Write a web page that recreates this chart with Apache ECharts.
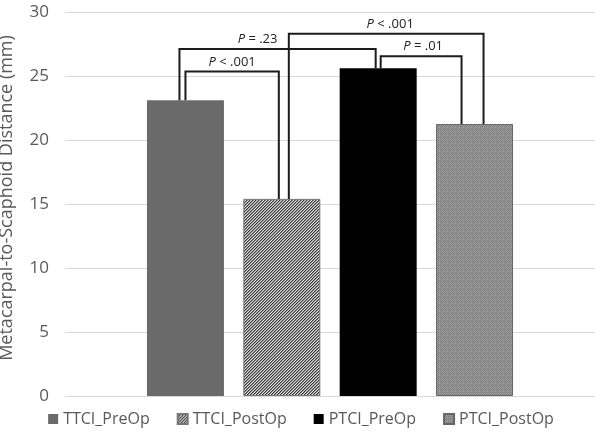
<!DOCTYPE html>
<html>
<head>
<meta charset="utf-8">
<script src="https://cdn.jsdelivr.net/npm/echarts@6/dist/echarts.min.js"></script>
<style>html,body{margin:0;padding:0;background:#fff}#c{width:602px;height:433px}</style>
</head>
<body>
<div id="c"></div>
<script>
// ---- data ----
var groups = ['TTCI_PreOp', 'TTCI_PostOp', 'PTCI_PreOp', 'PTCI_PostOp'];
var groupX = [1, 2, 3, 4];
var distances = [23.1, 15.4, 25.6, 21.25];
var yTicks = [0, 5, 10, 15, 20, 25, 30];
var bracketFrom = [0, 0, 1, 2];
var bracketTo = [1, 2, 3, 3];
var bracketLevel = [25.35, 27.1, 28.3, 26.55];
var bracketOp = ['<', '=', '<', '='];
var bracketP = ['.001', '.23', '.001', '.01'];

// ---- layout/style (pixels) ----
var bracketDx = [[0, -3], [-6, -2.5], [7, 9], [2.5, -13]];
var labelDx = [0, -20, 4, 2];

function makeHatch() {
  var c = document.createElement('canvas'); c.width = 3; c.height = 3;
  var g = c.getContext('2d');
  g.fillStyle = '#e2e2e2'; g.fillRect(0, 0, 3, 3);
  for (var i = 0; i < 3; i++) {
    var y = 2 - i;
    g.fillStyle = '#333333'; g.fillRect(i, y, 1, 1);
    g.fillStyle = '#8e8e8e'; g.fillRect((i + 1) % 3, y, 1, 1);
  }
  return c;
}
function makeDots() {
  var c = document.createElement('canvas'); c.width = 4; c.height = 4;
  var g = c.getContext('2d');
  var cols = [['#7a7a7a', '#a0a0a0', '#7a7a7a', '#939393'],
              ['#a0a0a0', '#7a7a7a', '#a0a0a0', '#888888'],
              ['#7a7a7a', '#a0a0a0', '#7a7a7a', '#939393'],
              ['#939393', '#888888', '#939393', '#a4a4a4']];
  for (var y = 0; y < 4; y++) for (var x = 0; x < 4; x++) { g.fillStyle = cols[y][x]; g.fillRect(x, y, 1, 1); }
  return c;
}
var fills = [
  {color: '#6a6a6a', border: '#6a6a6a', bw: 0},
  {color: {image: makeHatch(), repeat: 'repeat'}, border: '#777', bw: 1},
  {color: '#000000', border: '#000', bw: 0},
  {color: {image: makeDots(), repeat: 'repeat'}, border: '#666', bw: 1}
];

var FONT = 'Open Sans';
var series = groups.map(function (name, i) {
  return {
    name: name, type: 'bar', barWidth: 77, barGap: '-100%',
    data: [[groupX[i], distances[i]]],
    itemStyle: {color: fills[i].color, borderColor: fills[i].border, borderWidth: fills[i].bw},
    emphasis: {disabled: true}, z: 2
  };
});

var bracketData = bracketFrom.map(function (f, i) {
  var t = bracketTo[i];
  return [groupX[f], groupX[t], bracketLevel[i], distances[f], distances[t]];
});

series.push({
  type: 'custom', name: 'brackets', z: 5, silent: true,
  encode: {x: [0, 1], y: [2, 3, 4]},
  data: bracketData,
  renderItem: function (params, api) {
    var i = params.dataIndex;
    var top1 = api.coord([api.value(0), api.value(2)]);
    var top2 = api.coord([api.value(1), api.value(2)]);
    var bot1 = api.coord([api.value(0), api.value(3)]);
    var bot2 = api.coord([api.value(1), api.value(4)]);
    var x1 = top1[0] + bracketDx[i][0], x2 = top2[0] + bracketDx[i][1];
    var yt = top1[1];
    return {
      type: 'group',
      children: [
        {type: 'polyline', shape: {points: [[x1, bot1[1]], [x1, yt], [x2, yt], [x2, bot2[1]]]},
         style: {stroke: '#1c1c1c', lineWidth: 2, fill: null}},
        {type: 'text', style: {
          text: '{i|P} ' + bracketOp[i] + ' ' + bracketP[i],
          x: (x1 + x2) / 2 + labelDx[i], y: yt - 3,
          align: 'center', verticalAlign: 'bottom',
          fill: '#222', font: '13px "' + FONT + '"',
          rich: {i: {fontStyle: 'italic', fontSize: 13, fontFamily: FONT, fill: '#222'}}
        }}
      ]
    };
  }
});

var chart = echarts.init(document.getElementById('c'), null, {renderer: 'canvas'});
chart.setOption({
  animation: false,
  backgroundColor: '#fff',
  textStyle: {fontFamily: FONT},
  grid: {left: 65, right: 7, top: 12, bottom: 37, containLabel: false, outerBoundsMode: 'none'},
  legend: {
    data: groups, bottom: 1, left: 'center', itemWidth: 10, itemHeight: 10, itemGap: 27,
    icon: 'rect', textStyle: {color: '#595959', fontSize: 16, fontFamily: FONT}
  },
  xAxis: {
    type: 'value', min: -0.25, max: 5.25,
    axisLine: {show: false}, axisTick: {show: false}, axisLabel: {show: false}, splitLine: {show: false}
  },
  yAxis: {
    type: 'value', min: yTicks[0], max: yTicks[yTicks.length - 1], interval: yTicks[1] - yTicks[0],
    name: 'Metacarpal-to-Scaphoid Distance (mm)', nameLocation: 'middle', nameGap: 49,
    nameTextStyle: {color: '#595959', fontSize: 18, fontFamily: FONT, padding: [0, 0, 0, 12]},
    axisLine: {show: false}, axisTick: {show: false},
    axisLabel: {color: '#595959', fontSize: 17, margin: 16, fontFamily: FONT},
    splitLine: {lineStyle: {color: '#d9d9d9', width: 1}}
  },
  series: series
});
</script>
</body>
</html>
